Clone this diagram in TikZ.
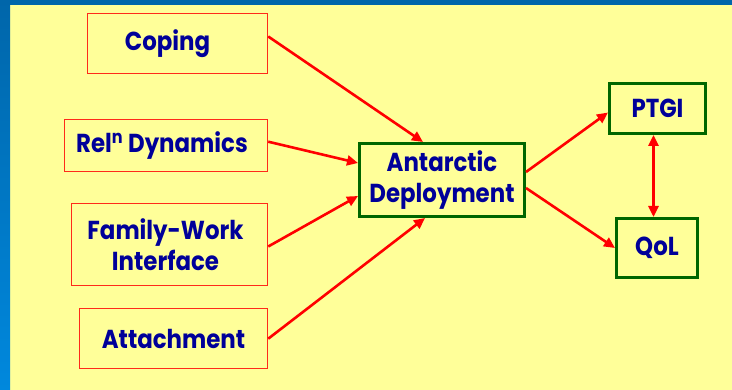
\documentclass[tikz,border=0pt]{standalone}
\usepackage{fontspec}
\setmainfont{Poppins}[FakeStretch=0.88]
\usetikzlibrary{arrows.meta}
\definecolor{bgyellow}{HTML}{FFFF99}
\definecolor{bandblue}{HTML}{0066AA}
\definecolor{bandlight}{HTML}{0088DD}
\definecolor{txtblue}{HTML}{000099}
\definecolor{boxgreen}{HTML}{006600}
\definecolor{boxred}{HTML}{FF2A1A}
\definecolor{arrred}{HTML}{FF0000}
\tikzset{
  every node/.style={font=\fontsize{26}{31}\selectfont\bfseries, text=txtblue, inner sep=0pt, align=center},
  redbox/.style={draw=boxred, line width=1.5pt, fill=bgyellow},
  greenbox/.style={draw=boxgreen, line width=3pt, fill=bgyellow},
  conn/.style={draw=arrred, line width=2.6pt, -{Triangle[length=11pt,width=10pt]}},
  bconn/.style={draw=arrred, line width=2.6pt, {Triangle[length=11pt,width=10pt]}-{Triangle[length=11pt,width=10pt]}},
}
\begin{document}
\begin{tikzpicture}[x=1pt,y=-1pt]
\useasboundingbox (0,0) rectangle (732,390);
\fill[bgyellow] (0,0) rectangle (732,390);
\shade[top color=bandblue, bottom color=bandlight] (0,0) rectangle (10,390);
\fill[bandblue] (0,0) rectangle (732,5);

\node[redbox, minimum width=180pt, minimum height=60pt] (coping) at (177.5,43.5) {Coping\hspace*{20pt}};
\node[redbox, minimum width=203pt, minimum height=52pt] (rel) at (166,145.7) {Rel\textsuperscript{n} Dynamics\hspace*{8pt}};
\node[redbox, minimum width=196pt, minimum height=82pt] (fam) at (169.5,244.5) {Family-Work\hspace*{8pt}\\Interface\hspace*{8pt}};
\node[redbox, minimum width=188pt, minimum height=60pt] (att) at (173.5,338.7) {Attachment};
\node[greenbox, minimum width=165pt, minimum height=73pt] (ant) at (442,180) {Antarctic\\Deployment};
\node[greenbox, minimum width=96pt, minimum height=50pt] (ptgi) at (657.5,108.5) {PTGI};
\node[greenbox, minimum width=81pt, minimum height=59pt] (qol) at (657,248) {QoL};

\draw[conn] ([yshift=7pt]coping.east) -- ([xshift=-19pt]ant.north);
\draw[conn] ([yshift=4pt]rel.east) -- ([yshift=17pt]ant.west);
\draw[conn] ([yshift=-2pt]fam.east) -- ([yshift=-16pt]ant.west);
\draw[conn] (att.east) -- ([xshift=-17pt]ant.south);
\draw[conn] ([yshift=8pt]ant.east) -- ([yshift=-4pt]ptgi.west);
\draw[conn] ([yshift=-8pt]ant.east) -- (qol.west);
\draw[bconn] ([xshift=-4pt]ptgi.south) -- ([xshift=-4pt]ptgi.south |- qol.north);
\end{tikzpicture}
\end{document}
